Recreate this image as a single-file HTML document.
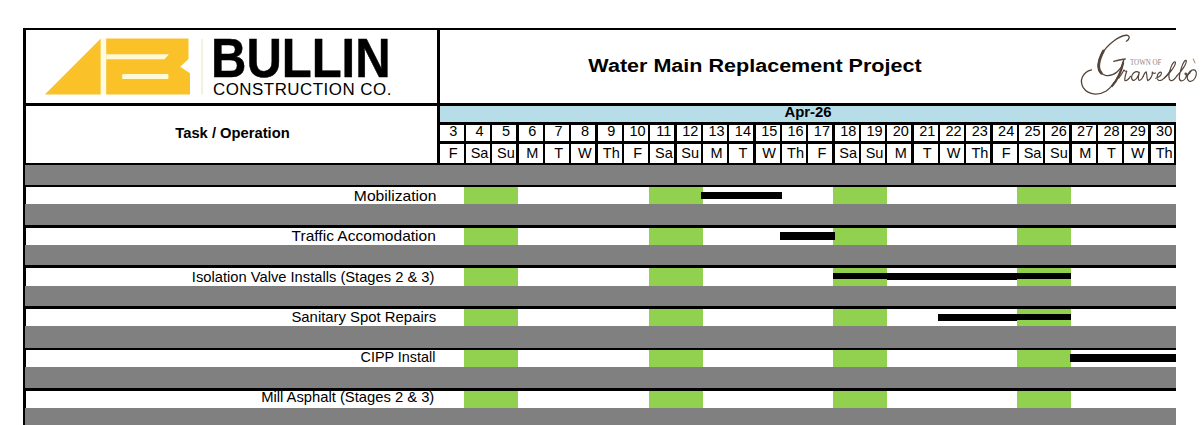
<!DOCTYPE html>
<html><head><meta charset="utf-8">
<style>
html,body{margin:0;padding:0;background:#fff;}
body{width:1203px;height:425px;position:relative;overflow:hidden;font-family:"Liberation Sans",sans-serif;color:#000;}
.a{position:absolute;}
.k{position:absolute;background:#000;}
.g{position:absolute;background:#808080;left:25px;width:1151px;}
.gr{position:absolute;background:#92d050;}
.t{position:absolute;white-space:nowrap;}
.d{position:absolute;text-align:center;font-size:14.5px;line-height:14px;white-space:nowrap;}
.lab{position:absolute;right:766.2px;text-align:right;font-size:14.1px;line-height:16px;white-space:nowrap;transform-origin:100% 50%;}
</style></head><body>

<div class="k" style="left:23px;top:28px;width:1153px;height:2px"></div>
<div class="k" style="left:23.3px;top:28px;width:3px;height:397px"></div>
<div class="k" style="left:23px;top:103.2px;width:1153px;height:2.8px"></div>
<div class="k" style="left:437.4px;top:28px;width:3px;height:137px"></div>
<div class="a" style="left:440px;top:105.8px;width:736px;height:17px;background:#b7dde8"></div>
<div class="t" id="apr" style="left:440px;width:736px;top:104.2px;text-align:center;font-weight:bold;font-size:14.2px;line-height:16px;transform:scaleX(1.05)">Apr-26</div>
<div class="k" style="left:438px;top:122px;width:738px;height:2.5px"></div>
<div class="k" style="left:438px;top:141px;width:738px;height:2.5px"></div>
<div class="k" style="left:23px;top:162.5px;width:1153px;height:2.6px"></div>
<div class="k" style="left:463.73px;top:122px;width:2.2px;height:42px"></div>
<div class="k" style="left:490.06px;top:122px;width:2.2px;height:42px"></div>
<div class="k" style="left:515.99px;top:122px;width:3.0px;height:42px"></div>
<div class="k" style="left:542.72px;top:122px;width:2.2px;height:42px"></div>
<div class="k" style="left:569.05px;top:122px;width:2.2px;height:42px"></div>
<div class="k" style="left:594.98px;top:122px;width:3.0px;height:42px"></div>
<div class="k" style="left:621.71px;top:122px;width:2.2px;height:42px"></div>
<div class="k" style="left:648.04px;top:122px;width:2.2px;height:42px"></div>
<div class="k" style="left:673.97px;top:122px;width:3.0px;height:42px"></div>
<div class="k" style="left:700.70px;top:122px;width:2.2px;height:42px"></div>
<div class="k" style="left:727.03px;top:122px;width:2.2px;height:42px"></div>
<div class="k" style="left:752.96px;top:122px;width:3.0px;height:42px"></div>
<div class="k" style="left:779.69px;top:122px;width:2.2px;height:42px"></div>
<div class="k" style="left:806.02px;top:122px;width:2.2px;height:42px"></div>
<div class="k" style="left:831.95px;top:122px;width:3.0px;height:42px"></div>
<div class="k" style="left:858.68px;top:122px;width:2.2px;height:42px"></div>
<div class="k" style="left:885.01px;top:122px;width:2.2px;height:42px"></div>
<div class="k" style="left:910.94px;top:122px;width:3.0px;height:42px"></div>
<div class="k" style="left:937.67px;top:122px;width:2.2px;height:42px"></div>
<div class="k" style="left:964.00px;top:122px;width:2.2px;height:42px"></div>
<div class="k" style="left:989.93px;top:122px;width:3.0px;height:42px"></div>
<div class="k" style="left:1016.66px;top:122px;width:2.2px;height:42px"></div>
<div class="k" style="left:1042.99px;top:122px;width:2.2px;height:42px"></div>
<div class="k" style="left:1068.92px;top:122px;width:3.0px;height:42px"></div>
<div class="k" style="left:1095.65px;top:122px;width:2.2px;height:42px"></div>
<div class="k" style="left:1121.98px;top:122px;width:2.2px;height:42px"></div>
<div class="k" style="left:1148.30px;top:122px;width:2.9px;height:42px"></div>
<div class="k" style="left:1173.90px;top:122px;width:2.1px;height:42px"></div>
<div class="d" style="left:440.10px;width:26.33px;top:124.3px">3</div>
<div class="d" style="left:440.10px;width:26.33px;top:146.2px">F</div>
<div class="d" style="left:466.43px;width:26.33px;top:124.3px">4</div>
<div class="d" style="left:466.43px;width:26.33px;top:146.2px">Sa</div>
<div class="d" style="left:492.76px;width:26.33px;top:124.3px">5</div>
<div class="d" style="left:492.76px;width:26.33px;top:146.2px">Su</div>
<div class="d" style="left:519.09px;width:26.33px;top:124.3px">6</div>
<div class="d" style="left:519.09px;width:26.33px;top:146.2px">M</div>
<div class="d" style="left:545.42px;width:26.33px;top:124.3px">7</div>
<div class="d" style="left:545.42px;width:26.33px;top:146.2px">T</div>
<div class="d" style="left:571.75px;width:26.33px;top:124.3px">8</div>
<div class="d" style="left:571.75px;width:26.33px;top:146.2px">W</div>
<div class="d" style="left:598.08px;width:26.33px;top:124.3px">9</div>
<div class="d" style="left:598.08px;width:26.33px;top:146.2px">Th</div>
<div class="d" style="left:624.41px;width:26.33px;top:124.3px">10</div>
<div class="d" style="left:624.41px;width:26.33px;top:146.2px">F</div>
<div class="d" style="left:650.74px;width:26.33px;top:124.3px">11</div>
<div class="d" style="left:650.74px;width:26.33px;top:146.2px">Sa</div>
<div class="d" style="left:677.07px;width:26.33px;top:124.3px">12</div>
<div class="d" style="left:677.07px;width:26.33px;top:146.2px">Su</div>
<div class="d" style="left:703.40px;width:26.33px;top:124.3px">13</div>
<div class="d" style="left:703.40px;width:26.33px;top:146.2px">M</div>
<div class="d" style="left:729.73px;width:26.33px;top:124.3px">14</div>
<div class="d" style="left:729.73px;width:26.33px;top:146.2px">T</div>
<div class="d" style="left:756.06px;width:26.33px;top:124.3px">15</div>
<div class="d" style="left:756.06px;width:26.33px;top:146.2px">W</div>
<div class="d" style="left:782.39px;width:26.33px;top:124.3px">16</div>
<div class="d" style="left:782.39px;width:26.33px;top:146.2px">Th</div>
<div class="d" style="left:808.72px;width:26.33px;top:124.3px">17</div>
<div class="d" style="left:808.72px;width:26.33px;top:146.2px">F</div>
<div class="d" style="left:835.05px;width:26.33px;top:124.3px">18</div>
<div class="d" style="left:835.05px;width:26.33px;top:146.2px">Sa</div>
<div class="d" style="left:861.38px;width:26.33px;top:124.3px">19</div>
<div class="d" style="left:861.38px;width:26.33px;top:146.2px">Su</div>
<div class="d" style="left:887.71px;width:26.33px;top:124.3px">20</div>
<div class="d" style="left:887.71px;width:26.33px;top:146.2px">M</div>
<div class="d" style="left:914.04px;width:26.33px;top:124.3px">21</div>
<div class="d" style="left:914.04px;width:26.33px;top:146.2px">T</div>
<div class="d" style="left:940.37px;width:26.33px;top:124.3px">22</div>
<div class="d" style="left:940.37px;width:26.33px;top:146.2px">W</div>
<div class="d" style="left:966.70px;width:26.33px;top:124.3px">23</div>
<div class="d" style="left:966.70px;width:26.33px;top:146.2px">Th</div>
<div class="d" style="left:993.03px;width:26.33px;top:124.3px">24</div>
<div class="d" style="left:993.03px;width:26.33px;top:146.2px">F</div>
<div class="d" style="left:1019.36px;width:26.33px;top:124.3px">25</div>
<div class="d" style="left:1019.36px;width:26.33px;top:146.2px">Sa</div>
<div class="d" style="left:1045.69px;width:26.33px;top:124.3px">26</div>
<div class="d" style="left:1045.69px;width:26.33px;top:146.2px">Su</div>
<div class="d" style="left:1072.02px;width:26.33px;top:124.3px">27</div>
<div class="d" style="left:1072.02px;width:26.33px;top:146.2px">M</div>
<div class="d" style="left:1098.35px;width:26.33px;top:124.3px">28</div>
<div class="d" style="left:1098.35px;width:26.33px;top:146.2px">T</div>
<div class="d" style="left:1124.68px;width:26.33px;top:124.3px">29</div>
<div class="d" style="left:1124.68px;width:26.33px;top:146.2px">W</div>
<div class="d" style="left:1151.01px;width:26.33px;top:124.3px">30</div>
<div class="d" style="left:1151.01px;width:26.33px;top:146.2px">Th</div>
<div class="t" id="taskop" style="left:25.5px;width:413px;top:125.2px;text-align:center;font-weight:bold;font-size:14.6px;line-height:16px;transform:scaleX(1.01)">Task / Operation</div>
<div class="g" style="top:165.00px;height:20.30px"></div>
<div class="k" style="left:25px;width:1151px;top:185.00px;height:2.20px"></div>
<div class="gr" style="left:464.20px;width:53.80px;top:187.20px;height:16.80px"></div>
<div class="gr" style="left:649.10px;width:53.70px;top:187.20px;height:16.80px"></div>
<div class="gr" style="left:833.20px;width:53.70px;top:187.20px;height:16.80px"></div>
<div class="gr" style="left:1017.00px;width:53.80px;top:187.20px;height:16.80px"></div>
<div class="lab" id="lab0" style="top:188.00px;right:766.60px;transform:scaleX(1.1092198581560284)">Mobilization</div>
<div class="k" style="left:701.00px;width:81.00px;top:191.80px;height:7.10px"></div>
<div class="g" style="top:204.00px;height:21.00px"></div>
<div class="k" style="left:25px;width:1151px;top:224.70px;height:3.00px"></div>
<div class="gr" style="left:464.20px;width:53.80px;top:227.70px;height:16.90px"></div>
<div class="gr" style="left:649.10px;width:53.70px;top:227.70px;height:16.90px"></div>
<div class="gr" style="left:833.20px;width:53.70px;top:227.70px;height:16.90px"></div>
<div class="gr" style="left:1017.00px;width:53.80px;top:227.70px;height:16.90px"></div>
<div class="lab" id="lab1" style="top:227.50px;right:766.80px;transform:scaleX(1.102468085106383)">Traffic Accomodation</div>
<div class="k" style="left:780.00px;width:55.10px;top:231.90px;height:7.90px"></div>
<div class="g" style="top:244.60px;height:20.90px"></div>
<div class="k" style="left:25px;width:1151px;top:265.20px;height:2.60px"></div>
<div class="gr" style="left:464.20px;width:53.80px;top:267.80px;height:18.20px"></div>
<div class="gr" style="left:649.10px;width:53.70px;top:267.80px;height:18.20px"></div>
<div class="gr" style="left:833.20px;width:53.70px;top:267.80px;height:18.20px"></div>
<div class="gr" style="left:1017.00px;width:53.80px;top:267.80px;height:18.20px"></div>
<div class="lab" id="lab2" style="top:268.80px;right:768.20px;transform:scaleX(1.0436312056737589)">Isolation Valve Installs (Stages 2 &amp; 3)</div>
<div class="k" style="left:833.00px;width:238.00px;top:272.90px;height:7.60px"></div>
<div class="gr" style="left:833.20px;width:53.70px;top:278.80px;height:1.80px"></div>
<div class="gr" style="left:1017.00px;width:53.80px;top:278.80px;height:1.80px"></div>
<div class="g" style="top:286.00px;height:20.60px"></div>
<div class="k" style="left:25px;width:1151px;top:306.30px;height:2.90px"></div>
<div class="gr" style="left:464.20px;width:53.80px;top:309.20px;height:17.20px"></div>
<div class="gr" style="left:649.10px;width:53.70px;top:309.20px;height:17.20px"></div>
<div class="gr" style="left:833.20px;width:53.70px;top:309.20px;height:17.20px"></div>
<div class="gr" style="left:1017.00px;width:53.80px;top:309.20px;height:17.20px"></div>
<div class="lab" id="lab3" style="top:309.20px;right:767.40px;transform:scaleX(1.0552056737588653)">Sanitary Spot Repairs</div>
<div class="k" style="left:938.00px;width:133.00px;top:314.00px;height:6.60px"></div>
<div class="gr" style="left:1017.00px;width:53.80px;top:319.50px;height:1.20px"></div>
<div class="g" style="top:326.40px;height:21.40px"></div>
<div class="k" style="left:25px;width:1151px;top:347.50px;height:2.50px"></div>
<div class="gr" style="left:464.20px;width:53.80px;top:350.00px;height:17.00px"></div>
<div class="gr" style="left:649.10px;width:53.70px;top:350.00px;height:17.00px"></div>
<div class="gr" style="left:833.20px;width:53.70px;top:350.00px;height:17.00px"></div>
<div class="gr" style="left:1017.00px;width:53.80px;top:350.00px;height:17.00px"></div>
<div class="lab" id="lab4" style="top:349.00px;right:767.30px;transform:scaleX(1.019517730496454)">CIPP Install</div>
<div class="k" style="left:1070.00px;width:106.00px;top:353.80px;height:8.00px"></div>
<div class="g" style="top:367.00px;height:21.70px"></div>
<div class="k" style="left:25px;width:1151px;top:388.40px;height:2.50px"></div>
<div class="gr" style="left:464.20px;width:53.80px;top:390.90px;height:17.40px"></div>
<div class="gr" style="left:649.10px;width:53.70px;top:390.90px;height:17.40px"></div>
<div class="gr" style="left:833.20px;width:53.70px;top:390.90px;height:17.40px"></div>
<div class="gr" style="left:1017.00px;width:53.80px;top:390.90px;height:17.40px"></div>
<div class="lab" id="lab5" style="top:388.90px;right:768.60px;transform:scaleX(1.0474893617021277)">Mill Asphalt (Stages 2 &amp; 3)</div>
<div class="g" style="top:408.30px;height:17.00px"></div>
<div class="t" id="title" style="left:440px;width:630px;top:54.3px;text-align:center;font-weight:bold;font-size:19.2px;line-height:24px;transform:scaleX(1.123)">Water Main Replacement Project</div>
<svg class="a" style="left:40px;top:34px" width="170" height="66" viewBox="40 34 170 66">
<polygon points="44.8,94.5 100.8,38.6 100.8,94.5" fill="#fac228"/>
<rect x="100.8" y="38.6" width="5.4" height="55.9" fill="#fffbe2"/>
<polygon points="106.2,38.6 188.5,38.6 188.5,59 180.2,66.8 190,73.3 190,94.5 106.2,94.5" fill="#fac228"/>
<polygon points="106.2,54.2 169,54.2 164.5,59.2 106.2,59.2" fill="#fff9d6"/>
<rect x="122.2" y="74" width="46.2" height="5.1" rx="1.2" fill="#fff9d6"/>
<rect x="201.6" y="39" width="1" height="55.6" fill="#e9e4c8"/>
</svg>
<div class="t" id="bullin" style="left:210.9px;top:26.8px;font-weight:bold;font-size:55.8px;line-height:62px;transform-origin:0 0;transform:scaleX(0.878);-webkit-text-stroke:0.5px #000">BULLIN</div>
<div class="t" id="constr" style="left:212.6px;top:81.2px;font-size:15.6px;line-height:18px;transform-origin:0 0;letter-spacing:0.45px;transform:scaleX(1.085)">CONSTRUCTION CO.</div>
<svg class="a" style="left:1075px;top:30px" width="128" height="70" viewBox="0 0 128 70" fill="none" stroke="#54443a" stroke-linecap="round" stroke-linejoin="round">
<g transform="scale(0.16474)">
<path d="M312,68 C335,55 335,30 310,32 C270,36 200,80 160,150 C130,205 135,262 185,275 C235,285 285,240 295,188" stroke-width="8"/>
<path d="M172,128 C142,185 135,235 160,262" stroke-width="17"/>
<path d="M235,190 C260,182 285,178 305,176" stroke-width="8"/>
<path d="M295,186 C285,250 245,330 190,370 C140,400 80,395 50,350 C25,310 45,255 100,242" stroke-width="8"/>
<path d="M292,200 C280,255 255,305 225,340" stroke-width="13"/>
</g>
<g transform="translate(40,20) scale(0.09412)" stroke-width="12.5">
<path d="M40,300 C60,270 80,240 95,212 C103,224 113,228 125,224 C113,260 98,300 105,325 C122,330 150,302 165,280"/>
<path d="M255,240 C235,220 195,230 180,270 C170,305 185,330 205,322 C230,310 250,270 258,238 C250,270 240,310 255,322 C270,328 290,300 300,280"/>
<path d="M300,280 C310,250 320,235 332,232 C342,260 335,300 347,325 C372,320 402,270 396,235 C402,246 416,250 432,245"/>
<path d="M432,300 C472,290 502,260 492,240 C482,225 452,245 447,285 C442,320 472,335 502,315 C532,295 562,260 592,210"/>
<path d="M522,300 C572,260 642,170 642,135 C642,110 612,130 592,190 C572,250 562,310 592,325 C612,330 642,300 662,270"/>
<path d="M662,270 C702,230 762,150 757,115 C752,95 722,130 702,200 C682,270 672,320 702,328 C735,330 765,290 760,255 C756,238 740,245 745,258 C752,270 775,262 790,245"/>
<path d="M847,215 C812,200 772,240 767,290 C767,335 802,345 832,320 C862,295 877,240 852,215 C832,200 802,220 792,250"/>
<path d="M832,95 L850,138" stroke-width="7"/>
</g>
</svg>
<div class="t" style="left:1130.3px;top:57.9px;font-family:'Liberation Serif',serif;font-size:7.9px;line-height:10px;color:#8e8681;transform-origin:0 0;transform:scaleX(0.88)">TOWN OF</div>
</body></html>
